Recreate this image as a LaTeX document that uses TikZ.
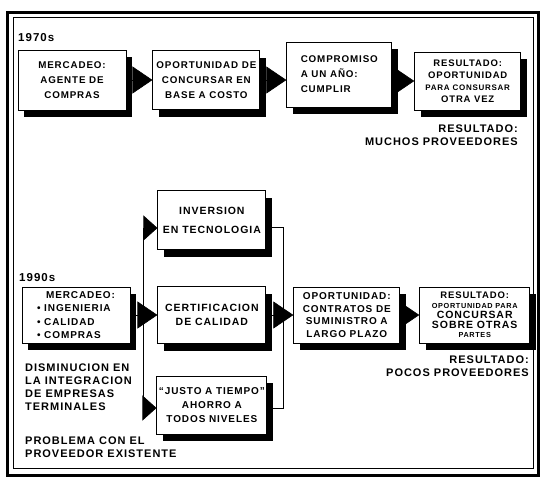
\documentclass[tikz,border=0pt]{standalone}
\usepackage{fontspec}
\setmainfont{Liberation Sans}[LetterSpace=9]
\usetikzlibrary{arrows.meta,positioning,shadows}

\begin{document}
\begin{tikzpicture}[x=1pt, y=-1pt, node distance=26pt, every node/.style={font=\bfseries\fontsize{10.5}{14}\selectfont}, box/.style={draw, line width=0.9pt, fill=white, align=center, minimum width=107pt, minimum height=59pt, inner sep=2pt, drop shadow={shadow xshift=6pt, shadow yshift=-7pt, fill=black, opacity=1}}, arrow/.style={-{Triangle[length=20pt, width=27pt]}, line width=0.6pt}, branch/.style={-{Triangle[length=14pt, width=25pt]}, line width=0.6pt}, bus/.style={line width=0.6pt}, note/.style={inner sep=0pt, font=\bfseries\fontsize{11}{12.8}\selectfont}, decade/.style={inner sep=0pt, anchor=west, font=\bfseries\fontsize{11.5}{11.5}\selectfont}, toprow/.style={box, font=\bfseries\fontsize{9.8}{15}\selectfont}]
\useasboundingbox (0,0) rectangle (542,483);
\draw[line width=3pt] (7,12) rectangle (538,475);
\draw[line width=0.8pt] (13,17) rectangle (533,468);
% 1970s
\node[decade] (y70) at (18,38) {1970s};
\node[toprow, minimum width=108pt, minimum height=60pt] (mer70) at (72,80) {MERCADEO:\\AGENTE DE\\COMPRAS};
\node[toprow] (opp70) [right=of mer70] {OPORTUNIDAD DE\\CONCURSAR EN\\BASE A COSTO};
\node[toprow, minimum width=105pt, minimum height=65pt, align=left] (comp70) [right=of opp70, yshift=5.5pt] {COMPROMISO\\A UN AÑO:\\CUMPLIR};
\node[toprow, minimum width=106pt, minimum height=58pt, font=\bfseries\fontsize{9.5}{12}\selectfont] (res70) [right=22pt of comp70, yshift=-6.5pt] {RESULTADO:\\OPORTUNIDAD\\{\fontsize{8}{12}\selectfont PARA CONSURSAR}\\OTRA VEZ};
\draw[arrow] (mer70)--(opp70); \draw[arrow] (opp70)--(comp70.west |- opp70); \draw[arrow] (comp70.east |- res70)--(res70);
\node[note, anchor=north east, align=right] (muchos) at (518,125) {RESULTADO:\\MUCHOS PROVEEDORES};
% 1990s
\node[decade] (y90) at (19,278) {1990s};
\node[box, minimum width=108pt, minimum height=56pt, align=left, font=\bfseries\fontsize{10}{13.5}\selectfont] (mer90) at (76,315) {\hspace*{9pt}MERCADEO:\\\textbullet\ INGENIERIA\\\textbullet\ CALIDAD\\\textbullet\ COMPRAS};
\node[box, minimum width=108pt, minimum height=57pt] (cert) [right=27pt of mer90] {CERTIFICACION\\DE CALIDAD};
\node[box, minimum width=108pt] (inv) [above=36pt of cert] {INVERSION\\[5pt]EN TECNOLOGIA};
\node[box, minimum width=108pt, minimum height=58pt, font=\bfseries\fontsize{10}{14}\selectfont] (jit) [below=32pt of cert] {“JUSTO A TIEMPO”\\AHORRO A\\TODOS NIVELES};
\node[box, minimum width=106pt, minimum height=56pt, font=\bfseries\fontsize{10}{12.5}\selectfont] (opp90) [right=27pt of cert] {OPORTUNIDAD:\\CONTRATOS DE\\SUMINISTRO A\\LARGO PLAZO};
\node[box, minimum width=110pt, minimum height=56pt, font=\bfseries\fontsize{10.5}{9.8}\selectfont] (res90) [right=19pt of opp90] {{\fontsize{9.5}{9.8}\selectfont RESULTADO:}\\{\fontsize{7.3}{8.8}\selectfont OPORTUNIDAD PARA}\\CONCURSAR\\SOBRE OTRAS\\{\fontsize{7.3}{8}\selectfont PARTES}};
\coordinate (lbusT) at (143,228); \coordinate (lbusB) at (143,408);
\coordinate (rbusT) at (283,227); \coordinate (rbusB) at (283,408);
\draw[bus] (lbusT)--(lbusB);
\draw[bus] (inv.east |- rbusT)--(rbusT)--(rbusB)--(jit.east |- rbusB);
\draw[arrow] (mer90)--(cert); \draw[arrow] (cert)--(opp90); \draw[arrow] (opp90)--(res90);
\draw[branch] (lbusT)--(lbusT -| inv.west); \draw[branch] (lbusB)--(lbusB -| jit.west);
\node[note, anchor=north east, align=right] (pocos) at (529,356) {RESULTADO:\\POCOS PROVEEDORES};
\node[note, anchor=north west, align=left] (dism) at (25,364) {DISMINUCION EN\\LA INTEGRACION\\DE EMPRESAS\\TERMINALES};
\node[note, anchor=north west, align=left] (prob) at (25,437) {PROBLEMA CON EL\\PROVEEDOR EXISTENTE};
\end{tikzpicture}
\end{document}
